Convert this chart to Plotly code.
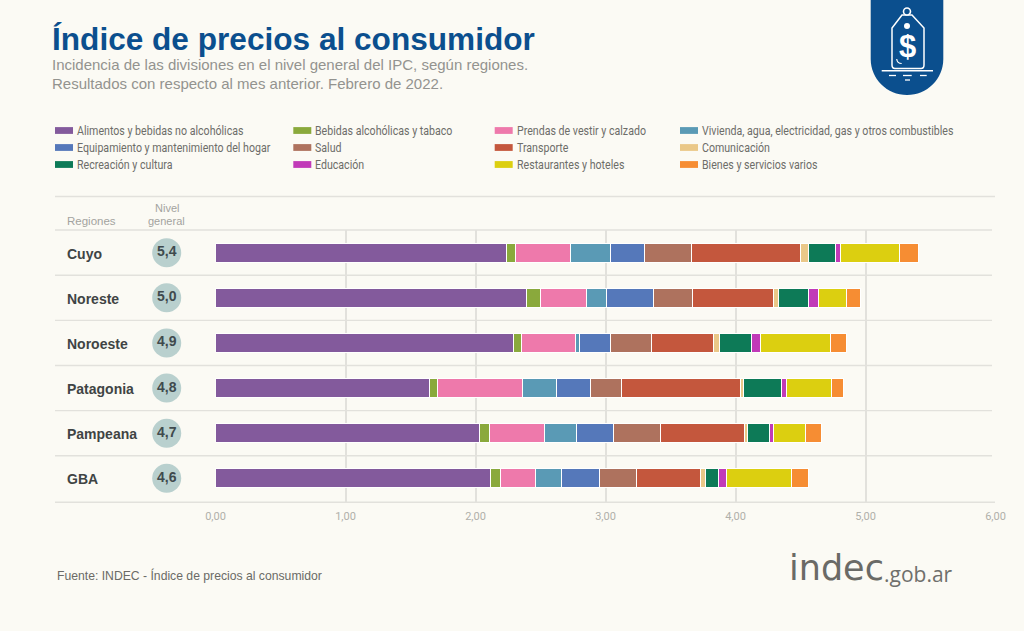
# Índice de precios al consumidor: incidencia por divisiones y regiones (INDEC, febrero 2022)
import plotly.graph_objects as go

W, H = 1024, 631

regiones = ['Cuyo', 'Noreste', 'Noroeste', 'Patagonia', 'Pampeana', 'GBA']
nivel_general = [5.4, 5.0, 4.9, 4.8, 4.7, 4.6]

alimentos = [2.24, 2.39, 2.29, 1.645, 2.03, 2.117]
bebidas = [0.07, 0.11, 0.06, 0.06, 0.076, 0.073]
prendas = [0.417, 0.35, 0.42, 0.657, 0.424, 0.273]
vivienda = [0.308, 0.16, 0.03, 0.264, 0.248, 0.20]
equipamiento = [0.265, 0.36, 0.24, 0.261, 0.285, 0.287]
salud = [0.358, 0.30, 0.31, 0.237, 0.362, 0.287]
transporte = [0.842, 0.62, 0.48, 0.915, 0.643, 0.493]
comunicacion = [0.065, 0.04, 0.05, 0.02, 0.026, 0.04]
recreacion = [0.208, 0.23, 0.24, 0.295, 0.171, 0.098]
educacion = [0.037, 0.08, 0.07, 0.035, 0.025, 0.062]
restaurantes = [0.448, 0.21, 0.54, 0.35, 0.25, 0.50]
bienes = [0.148, 0.11, 0.12, 0.095, 0.12, 0.133]

divisiones = [
    ('Alimentos y bebidas no alcohólicas', alimentos, '#835a9c'),
    ('Bebidas alcohólicas y tabaco', bebidas, '#8aa93c'),
    ('Prendas de vestir y calzado', prendas, '#ee79ab'),
    ('Vivienda, agua, electricidad, gas y otros combustibles', vivienda, '#5a9ab5'),
    ('Equipamiento y mantenimiento del hogar', equipamiento, '#5578ba'),
    ('Salud', salud, '#ae725e'),
    ('Transporte', transporte, '#c4573d'),
    ('Comunicación', comunicacion, '#eac888'),
    ('Recreación y cultura', recreacion, '#0d7a57'),
    ('Educación', educacion, '#c13ab8'),
    ('Restaurantes y hoteles', restaurantes, '#dccf10'),
    ('Bienes y servicios varios', bienes, '#f68d33'),
]

FONDO = '#fbfaf4'
AZUL = '#0b4f8e'
LINEA = '#e2e1dc'
SANS = 'Liberation Sans'


# coordenadas de la imagen (px) -> fracción de papel
def px(x):
    return x / W


def py(y):
    return 1 - y / H


fig = go.Figure()

for nombre, valores, color in divisiones:
    fig.add_trace(go.Bar(
        x=valores, y=regiones, orientation='h', name=nombre,
        marker=dict(color=color, line=dict(color='#ffffff', width=1)),
        showlegend=False,
    ))

# columna "Nivel general"
fig.add_trace(go.Scatter(
    x=[0.5] * len(regiones), y=regiones, xaxis='x2', mode='markers+text',
    marker=dict(size=29, color='#b9d0ce'),
    text=[f'{v:.1f}'.replace('.', ',') for v in nivel_general],
    textposition='middle center',
    textfont=dict(family=SANS, size=14, color='#3f4a4d', weight='bold'),
    showlegend=False,
))

shapes = []
annotations = []


def linea(x0, y0, x1, y1, color=LINEA, width=1.3, layer='below'):
    shapes.append(dict(type='line', xref='paper', yref='paper', x0=px(x0), x1=px(x1),
                       y0=py(y0), y1=py(y1), line=dict(color=color, width=width), layer=layer))


def texto(x, y, t, size, color, family=SANS, anchor='left', bold=False):
    # las anotaciones dejan 2 px de relleno a la izquierda
    if anchor == 'left':
        x -= 2
    annotations.append(dict(xref='paper', yref='paper', x=px(x), y=py(y), text=t, showarrow=False,
                            xanchor=anchor, yanchor='middle', align=anchor,
                            font=dict(family=family, size=size, color=color,
                                      weight='bold' if bold else 'normal')))


# líneas de la tabla
linea(55, 196.5, 995, 196.5)
linea(55, 230, 992, 230)
linea(55, 502.3, 995, 502.3, width=1.6)
for i in range(len(regiones) - 1):
    shapes.append(dict(type='line', xref='paper', yref='y', x0=px(55), x1=px(992), y0=i + 0.5, y1=i + 0.5,
                       line=dict(color=LINEA, width=1.3), layer='below'))

# títulos
texto(52, 39, 'Índice de precios al consumidor', 31.6, AZUL, bold=True)
texto(52, 65, 'Incidencia de las divisiones en el nivel general del IPC, según regiones.', 15, '#93938f')
texto(52, 83.5, 'Resultados con respecto al mes anterior. Febrero de 2022.', 15, '#93938f')

# leyenda en cuatro columnas
col_x = [55, 293.3, 494.7, 680]
fila_y = [130.5, 147.5, 164.5]
for k, (nombre, _, color) in enumerate(divisiones):
    x = col_x[k % 4]
    y = fila_y[k // 4]
    shapes.append(dict(type='rect', xref='paper', yref='paper', x0=px(x), x1=px(x + 18),
                       y0=py(y - 3.4), y1=py(y + 3.4), fillcolor=color, line_width=0))
    texto(x + 22, y, nombre, 12.5, '#6d6d69', family='Roboto')

# encabezados
texto(67, 221, 'Regiones', 11.5, '#a3a39f')
texto(166.7, 208, 'Nivel', 11, '#a3a39f', anchor='center')
texto(166.7, 221, 'general', 11, '#a3a39f', anchor='center')

for nombre in regiones:
    annotations.append(dict(xref='paper', yref='y', x=px(65), y=nombre, text=nombre, showarrow=False,
                            xanchor='left', yshift=-1,
                            font=dict(family=SANS, size=14, color='#3f4444', weight='bold')))

texto(57, 575, 'Fuente: INDEC - Índice de precios al consumidor', 12.2, '#6a6a66')


# marca: etiqueta con precio
def camino(puntos):
    return ' '.join(f'{c}{px(x)},{py(y)}' if c != 'Z' else 'Z' for c, x, y in puntos)


contorno = [('M', 870.7, 0), ('L', 943.3, 0), ('L', 943.3, 59)]
contorno += [('C', 943.3, 79), ('', 927, 95), ('', 907, 95)]
contorno += [('C', 887, 95), ('', 870.7, 79), ('', 870.7, 59), ('Z', 0, 0)]
shapes.append(dict(type='path', xref='paper', yref='paper', path=camino(contorno), fillcolor=AZUL, line_width=0))

etiqueta = [('M', 902, 15), ('L', 892, 28), ('L', 892, 65), ('C', 892, 67), ('', 893, 68.5), ('', 895, 68.5),
            ('L', 921, 68.5), ('C', 923, 68.5), ('', 924, 67), ('', 924, 65), ('L', 924, 28), ('L', 912, 15), ('Z', 0, 0)]
shapes.append(dict(type='path', xref='paper', yref='paper', path=camino(etiqueta),
                   line=dict(color='#ffffff', width=1.5), fillcolor=AZUL))
shapes.append(dict(type='circle', xref='paper', yref='paper', x0=px(903.5), x1=px(910.5), y0=py(15), y1=py(8),
                   line=dict(color='#ffffff', width=1.6), fillcolor=AZUL))
shapes.append(dict(type='circle', xref='paper', yref='paper', x0=px(904), x1=px(910), y0=py(29), y1=py(23),
                   fillcolor='#ffffff', line_width=0))
arco = [('M', 896.7, 59), ('C', 897, 62), ('', 899, 63.5), ('', 901.7, 63.5)]
shapes.append(dict(type='path', xref='paper', yref='paper', path=camino(arco), line=dict(color='#ffffff', width=1.2)))
texto(907.5, 47, '$', 31, '#ffffff', anchor='center', bold=True)
linea(881.7, 70.7, 933, 70.7, color='#ffffff', width=1.4, layer='above')
linea(889, 75.5, 896, 75.5, color='#ffffff', width=1.3, layer='above')
linea(903, 75.5, 911.7, 75.5, color='#ffffff', width=1.3, layer='above')
linea(920, 75.5, 926.7, 75.5, color='#ffffff', width=1.3, layer='above')
linea(905, 80, 910, 80, color='#ffffff', width=1.3, layer='above')

# logo
texto(789, 568, 'indec', 35, '#6a6a66', family='DejaVu Sans')
texto(884, 573.5, '.gob.ar', 21, '#6f6f6b', family='Open Sans')

fig.update_layout(
    width=W, height=H, autosize=False,
    margin=dict(l=0, r=0, t=0, b=0, autoexpand=False),
    paper_bgcolor=FONDO, plot_bgcolor='rgba(0,0,0,0)',
    barmode='stack', bargap=0.586, separators=',.',
    shapes=shapes, annotations=annotations,
    xaxis=dict(domain=[px(215.5), px(995.5)], range=[0, 6], dtick=1, tickformat='.2f',
               showgrid=True, gridcolor=LINEA, gridwidth=1.5, zeroline=False, showline=False,
               ticks='outside', ticklen=3, tickcolor='rgba(0,0,0,0)',
               tickfont=dict(family='Roboto', size=11, color='#b0b0aa')),
    xaxis2=dict(domain=[px(127), px(206.4)], range=[0, 1], visible=False, anchor='y'),
    yaxis=dict(domain=[py(502.3), py(230)], range=[5.532, -0.503], type='category',
               categoryorder='array', categoryarray=regiones,
               showticklabels=False, showgrid=False, zeroline=False, ticks=''),
)

# la leyenda original usa una letra condensada: se angosta el Roboto de esos textos
angostar = """
document.body.style.margin='0';document.body.style.overflow='hidden';
document.querySelectorAll('.annotation-text').forEach(function(t){
  if (t.style.fontFamily.indexOf('Roboto') < 0) return;
  var b = t.getBBox(), f = 0.85;
  t.setAttribute('transform', 'translate(' + b.x * (1 - f) + ',0) scale(' + f + ',1)');
});
"""

fig.write_html('out.html', post_script=angostar, config=dict(displayModeBar=False))
